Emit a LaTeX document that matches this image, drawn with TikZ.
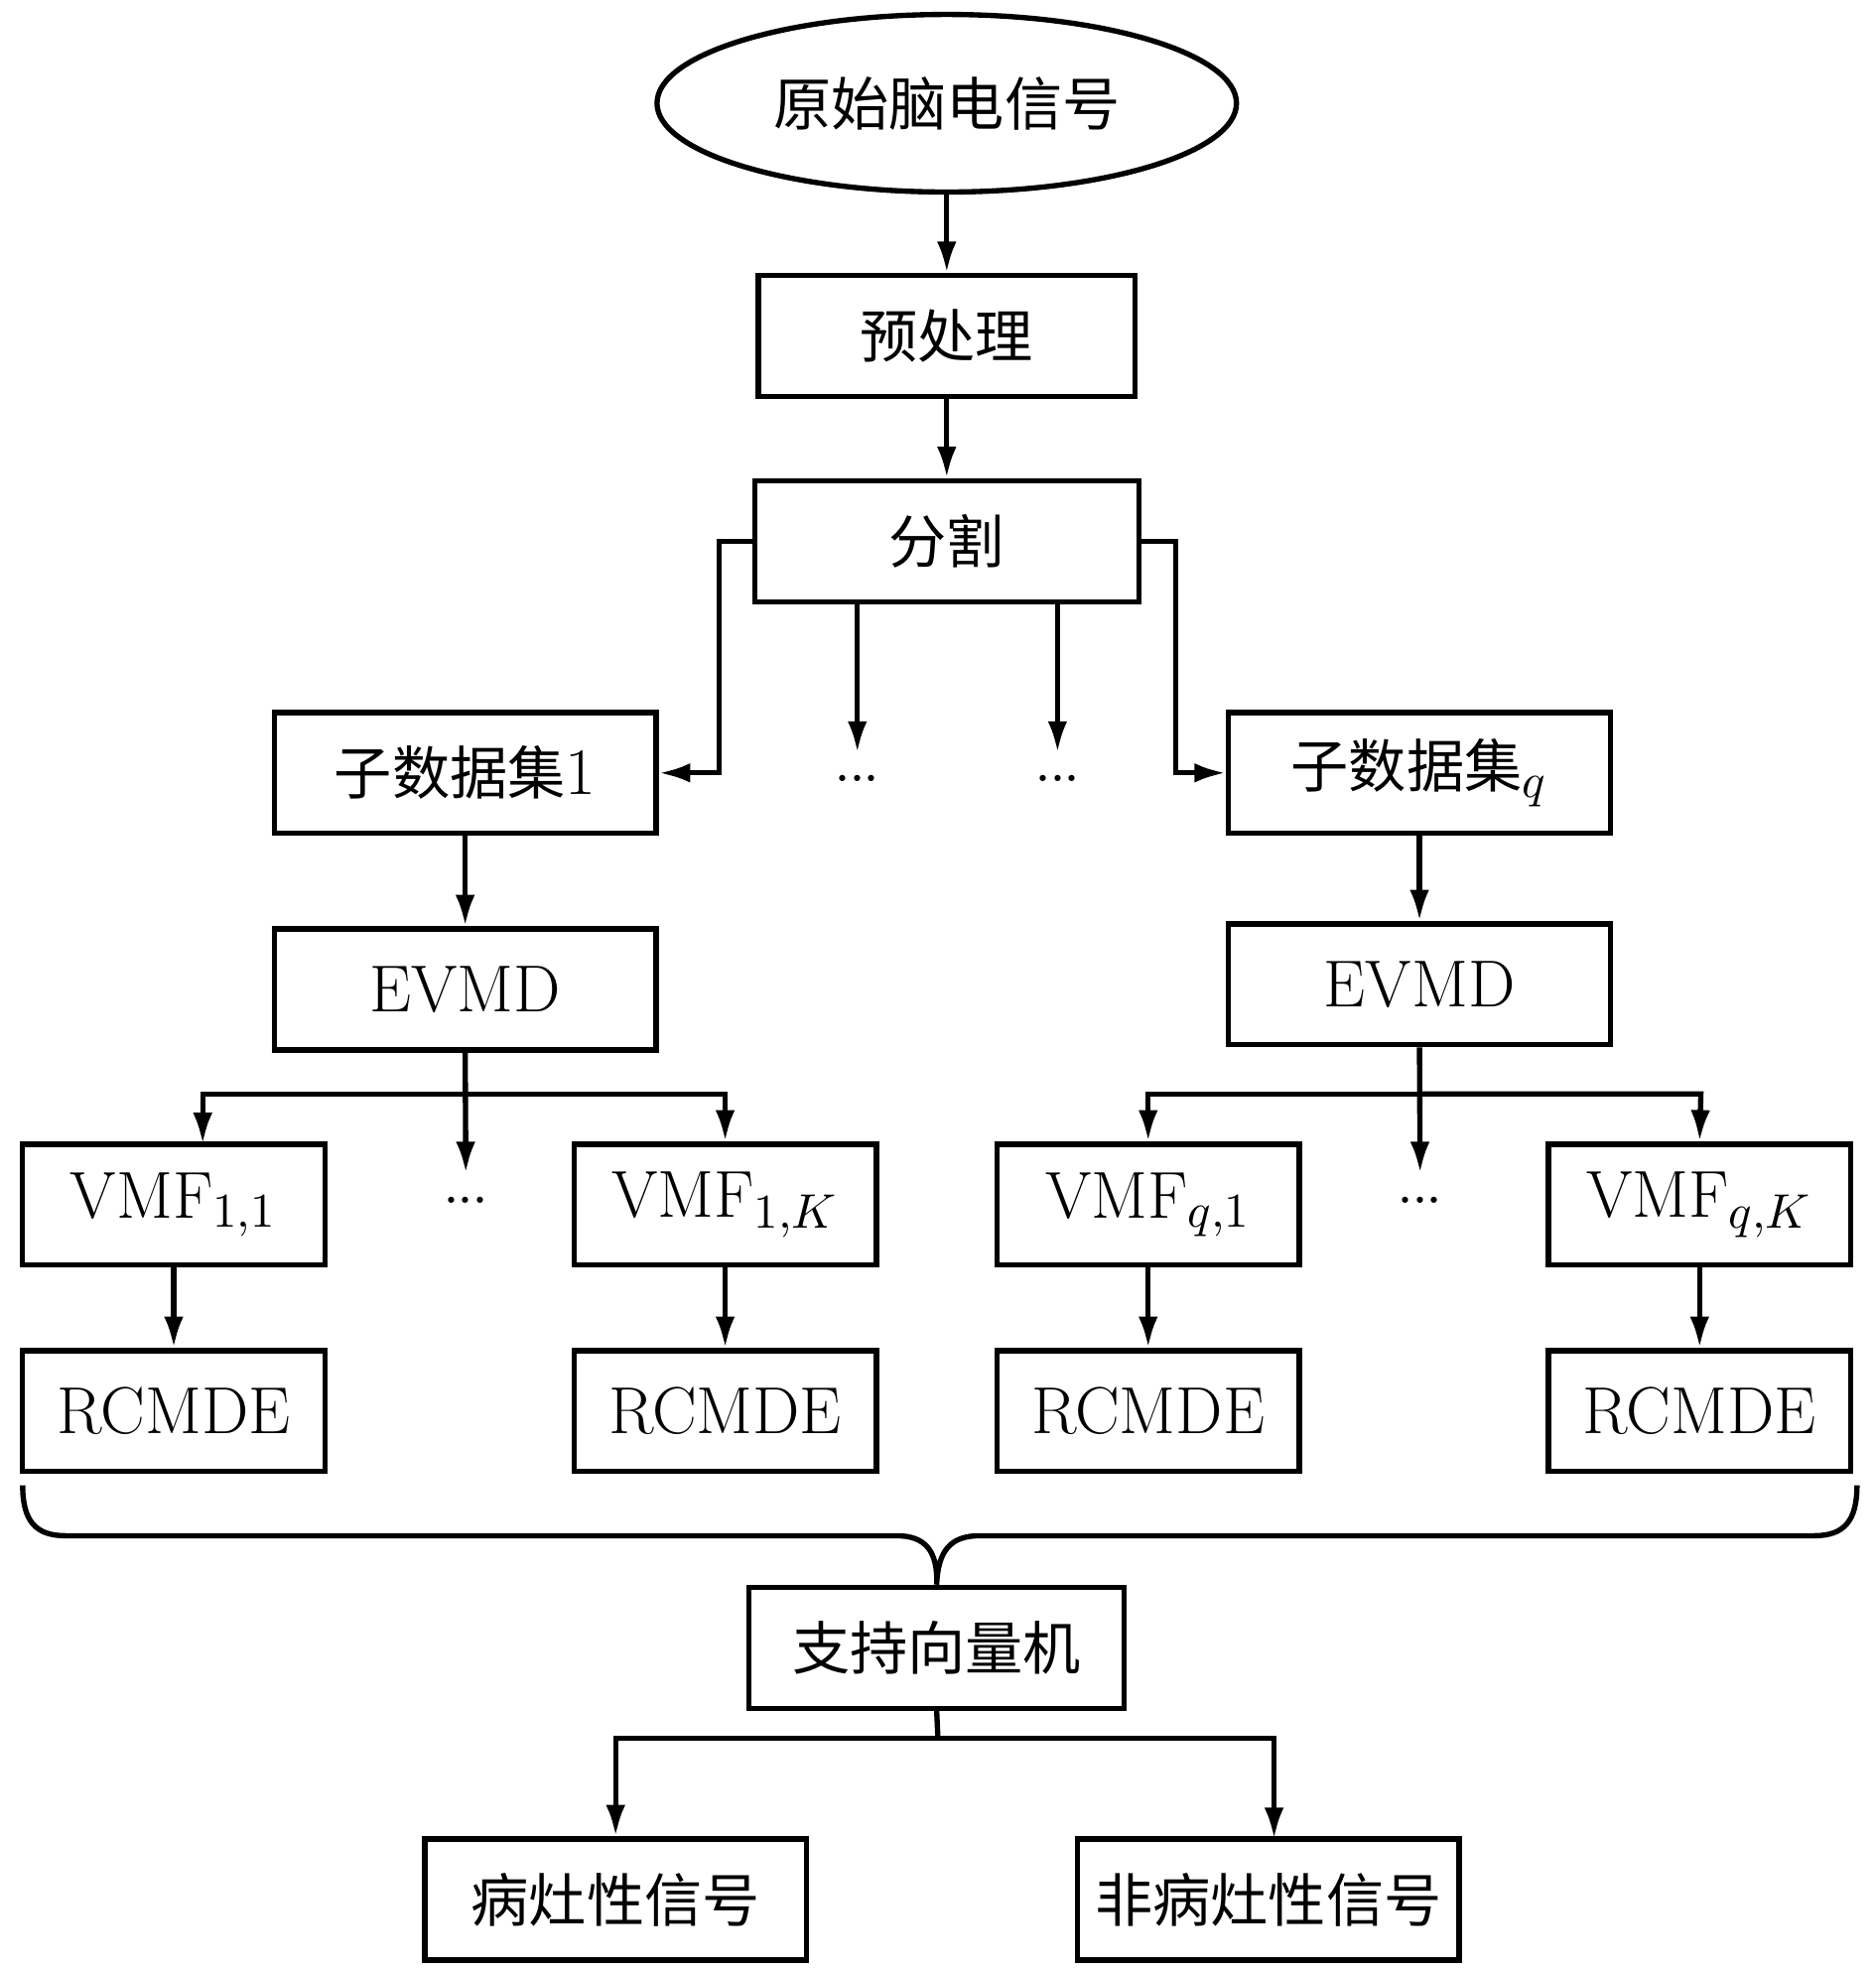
\documentclass[tikz,border=0pt]{standalone}
\usepackage{fontspec}
\newfontfamily\cjk[Scale=0.87]{Noto Sans CJK SC}
\usetikzlibrary{shapes.geometric,arrows.meta}
\newcommand{\tightdots}{{\fontsize{17}{18}\selectfont.\kern-0.06em.\kern-0.06em.}}
\begin{document}
\begin{tikzpicture}[x=0.01cm,y=-0.01cm,
  line width=1.2pt,
  font=\fontsize{15}{18}\selectfont,
  >={Latex[length=2.5mm,width=1.55mm]},
  box/.style={draw,line width=1.2pt,minimum height=0.96cm,inner sep=0pt,anchor=center},
  wide/.style={box,minimum width=3.03cm},
  narrow/.style={box,minimum width=2.40cm},
  dotsnode/.style={inner sep=0pt,anchor=base}]
\useasboundingbox (0,0) rectangle (1490,1565);
% nodes
\node[draw,ellipse,line width=1.2pt,minimum width=4.6cm,minimum height=1.41cm,inner sep=0pt] (raw) at (752,82) {\cjk 原始脑电信号};
\node[box,minimum width=2.99cm] (pre) at (752,267) {\cjk 预处理};
\node[box,minimum width=3.05cm] (seg) at (752,430) {\cjk 分割};
\node[wide] (s1) at (369.5,614) {{\cjk 子数据集}1};
\node[wide] (sq) at (1127.5,614) {{\cjk 子数据集}$_q$};
\node[wide] (e1) at (369.5,786) {EVMD};
\node[wide] (eq) at (1127.5,782) {EVMD};
\node[narrow] (v11) at (138,957) {VMF$_{1,1}$};
\node[narrow] (v1K) at (576,957) {VMF$_{1,K}$};
\node[narrow] (vq1) at (912,957) {VMF$_{q,1}$};
\node[narrow] (vqK) at (1350,957) {VMF$_{q,K}$};
\node[narrow] (r11) at (138,1121) {RCMDE};
\node[narrow] (r1K) at (576,1121) {RCMDE};
\node[narrow] (rq1) at (912,1121) {RCMDE};
\node[narrow] (rqK) at (1350,1121) {RCMDE};
\node[box,minimum width=2.98cm] (svm) at (744,1309) {\cjk 支持向量机};
\node[wide] (les) at (489,1509) {\cjk 病灶性信号};
\node[wide] (non) at (1007.5,1509) {\cjk 非病灶性信号};
% dots
\node[dotsnode] (d1) at (681,621) {\tightdots};
\node[dotsnode] (d2) at (840,621) {\tightdots};
\node[dotsnode] (d3) at (370,956) {\tightdots};
\node[dotsnode] (d4) at (1128,956) {\tightdots};
\coordinate (d1t) at (681,598);
\coordinate (d2t) at (840,598);
\coordinate (d3t) at (370,932);
\coordinate (d4t) at (1128,932);
% connectors top
\draw[->] (raw.south) -- (pre.north);
\draw[->] (pre.south) -- (seg.north);
\draw[->] (seg.west) -- (571,430) -- (571,614) -- (s1.east);
\draw[->] (seg.east) -- (934,430) -- (934,614) -- (sq.west);
\draw[->] (seg.south -| d1t) -- (d1t);
\draw[->] (seg.south -| d2t) -- (d2t);
\draw[->] (s1.south) -- (e1.north);
\draw[->] (sq.south) -- (eq.north);
% left fan
\coordinate (b1) at (370,869);
\draw[->] (e1.south) -- (d3t);
\draw[->] (b1) -- (161,869) -- (161,909);
\draw[->] (b1) -- (576,869) -- (v1K.north);
% right fan
\coordinate (b2) at (1128,869);
\draw[->] (eq.south) -- (d4t);
\draw[->] (b2) -- (912,869) -- (vq1.north);
\draw[->] (b2) -- (1351,869) -- (vqK.north);
% VMF -> RCMDE
\draw[->] (v11.south) -- (r11.north);
\draw[->] (v1K.south) -- (r1K.north);
\draw[->] (vq1.south) -- (rq1.north);
\draw[->] (vqK.south) -- (rqK.north);
% brace
\coordinate (brL) at (18,1180);
\coordinate (brR) at (1475,1180);
\draw (brL) .. controls (18,1208) and (28,1220) .. (52,1220) -- (712,1220)
  .. controls (735,1220) and (745,1232) .. (svm.north)
  .. controls (745,1232) and (755,1220) .. (778,1220) -- (1441,1220)
  .. controls (1465,1220) and (1475,1208) .. (brR);
% SVM outputs
\coordinate (b3) at (745,1381);
\draw (svm.south) -- (b3);
\draw[->] (b3) -- (489,1381) -- (les.north);
\draw[->] (b3) -- (1012,1381) -- (1012,1461);
\end{tikzpicture}
\end{document}
